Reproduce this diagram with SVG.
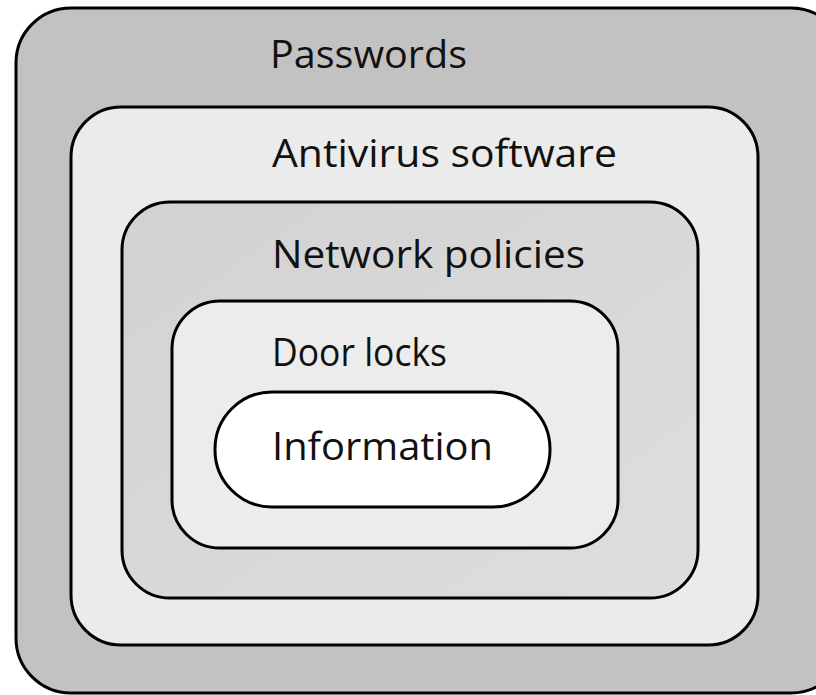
<svg xmlns="http://www.w3.org/2000/svg" width="816" height="695" viewBox="0 0 816 695">
  <style>
    .layer { stroke: #000; stroke-width: 3; }
    .label { font-family: "Open Sans", "Noto Sans", "DejaVu Sans", sans-serif; font-size: 38px; fill: #111; }
  </style>
  <defs>
    <linearGradient id="netFill" x1="0" y1="0" x2="1" y2="1">
      <stop offset="0" stop-color="#d2d2d2"/>
      <stop offset="1" stop-color="#dedede"/>
    </linearGradient>
  </defs>
  <rect width="816" height="695" fill="#fff"/>
  <g id="passwords">
    <rect class="layer" x="16" y="8" width="830" height="685" rx="55" fill="#c2c2c2"/>
    <text class="label" x="270" y="68" textLength="197" lengthAdjust="spacingAndGlyphs">Passwords</text>
  </g>
  <g id="antivirus">
    <rect class="layer" x="71" y="107" width="687" height="538" rx="50" fill="#ebebeb"/>
    <text class="label" x="272" y="167" textLength="345" lengthAdjust="spacingAndGlyphs">Antivirus software</text>
  </g>
  <g id="network">
    <rect class="layer" x="122" y="202" width="576" height="396" rx="48" fill="url(#netFill)"/>
    <text class="label" x="272" y="268" textLength="313" lengthAdjust="spacingAndGlyphs">Network policies</text>
  </g>
  <g id="doorlocks">
    <rect class="layer" x="172" y="301" width="446" height="247" rx="48" fill="#ececec"/>
    <text class="label" x="272" y="366" textLength="175" lengthAdjust="spacingAndGlyphs">Door locks</text>
  </g>
  <g id="information">
    <rect class="layer" x="215" y="392" width="335" height="115" rx="57" fill="#fff"/>
    <text class="label" x="272" y="460" textLength="221" lengthAdjust="spacingAndGlyphs">Information</text>
  </g>
  <g id="connectors"/>
</svg>
